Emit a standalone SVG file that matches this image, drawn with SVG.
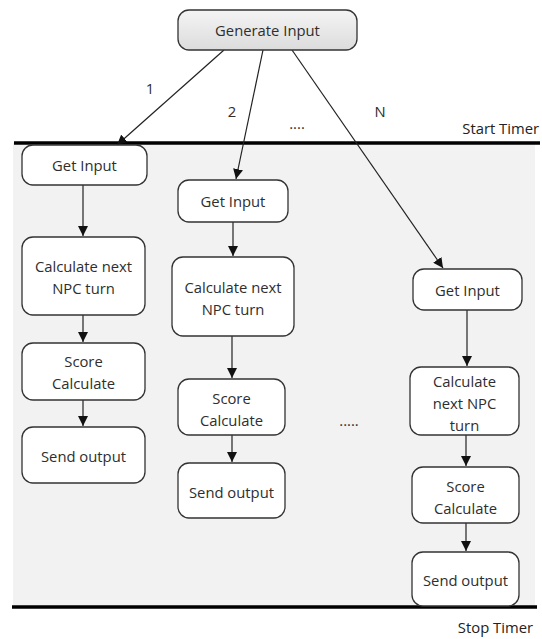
<svg xmlns="http://www.w3.org/2000/svg" width="542" height="639" viewBox="0 0 542 639">
  <defs>
    <linearGradient id="genFill" x1="0" y1="0" x2="0" y2="1">
      <stop offset="0" stop-color="#f4f4f4"/>
      <stop offset="1" stop-color="#dcdcdc"/>
    </linearGradient>
    <marker id="arrow" viewBox="0 0 10 10" refX="10" refY="5" markerWidth="10" markerHeight="10" markerUnits="userSpaceOnUse" orient="auto">
      <path d="M0,0 L10,5 L0,10 Z" fill="#111"/>
    </marker>
  </defs>
  <style>
    .box { fill: #ffffff; stroke: #333333; stroke-width: 1.3; }
    .gen { fill: url(#genFill); stroke: #333333; stroke-width: 1.3; }
    .lbl { font-family: "Open Sans", "Noto Sans", sans-serif; font-size: 14.8px; fill: #2e2e2e; text-anchor: middle; dominant-baseline: central; }
    .note { font-family: "Open Sans", "Noto Sans", sans-serif; font-size: 14.8px; fill: #222222; }
    .edge { stroke: #222222; stroke-width: 1.2; fill: none; marker-end: url(#arrow); }
    .timer { stroke: #000000; stroke-width: 3.5; }
  </style>

  <!-- timed region -->
  <rect x="13" y="143" width="522" height="463" fill="#f2f2f2"/>
  <line class="timer" x1="14" y1="143" x2="540" y2="143"/>
  <line class="timer" x1="12" y1="607" x2="537" y2="607"/>
  <text class="note" x="539" y="134" text-anchor="end">Start Timer</text>
  <text class="note" x="533" y="633" text-anchor="end">Stop Timer</text>

  <g id="connectors">
    <line class="edge" x1="224" y1="50" x2="117" y2="145"/>
    <line class="edge" x1="263" y1="50" x2="236" y2="179"/>
    <line class="edge" x1="292" y1="50" x2="443" y2="268"/>

    <line class="edge" x1="83" y1="185" x2="83" y2="236"/>
    <line class="edge" x1="83" y1="315" x2="83" y2="342"/>
    <line class="edge" x1="83" y1="400" x2="83" y2="426"/>

    <line class="edge" x1="233" y1="222" x2="233" y2="256"/>
    <line class="edge" x1="232" y1="336" x2="232" y2="378"/>
    <line class="edge" x1="232" y1="435" x2="232" y2="462"/>

    <line class="edge" x1="467" y1="310" x2="467" y2="366"/>
    <line class="edge" x1="466" y1="435" x2="466" y2="466"/>
    <line class="edge" x1="466" y1="523" x2="466" y2="551"/>
  </g>

  <!-- branch labels -->
  <text class="lbl" x="150" y="88">1</text>
  <text class="lbl" x="232" y="111">2</text>
  <text class="lbl" x="297" y="123">....</text>
  <text class="lbl" x="380" y="111">N</text>
  <text class="lbl" x="349" y="420">.....</text>

  <g id="generate-input">
    <rect class="gen" x="178" y="10" width="179" height="40" rx="11"/>
    <text class="lbl" x="267.5" y="30">Generate Input</text>
  </g>

  <!-- worker 1 -->
  <g id="get-input-1">
    <rect class="box" x="22" y="145" width="125" height="40" rx="11"/>
    <text class="lbl" x="84.5" y="165">Get Input</text>
  </g>
  <g id="calc-npc-1">
    <rect class="box" x="22" y="237" width="123" height="78" rx="11"/>
    <text class="lbl" x="83.5" y="266">Calculate next</text>
    <text class="lbl" x="83.5" y="288">NPC turn</text>
  </g>
  <g id="score-1">
    <rect class="box" x="22" y="343" width="123" height="57" rx="11"/>
    <text class="lbl" x="83.5" y="361">Score</text>
    <text class="lbl" x="83.5" y="383">Calculate</text>
  </g>
  <g id="send-output-1">
    <rect class="box" x="22" y="427" width="123" height="56" rx="11"/>
    <text class="lbl" x="83.5" y="456">Send output</text>
  </g>

  <!-- worker 2 -->
  <g id="get-input-2">
    <rect class="box" x="178" y="180" width="110" height="42" rx="11"/>
    <text class="lbl" x="233" y="201">Get Input</text>
  </g>
  <g id="calc-npc-2">
    <rect class="box" x="172" y="257" width="122" height="79" rx="11"/>
    <text class="lbl" x="233" y="287">Calculate next</text>
    <text class="lbl" x="233" y="309">NPC turn</text>
  </g>
  <g id="score-2">
    <rect class="box" x="178" y="379" width="107" height="56" rx="11"/>
    <text class="lbl" x="231.5" y="398">Score</text>
    <text class="lbl" x="231.5" y="420">Calculate</text>
  </g>
  <g id="send-output-2">
    <rect class="box" x="178" y="463" width="107" height="55" rx="11"/>
    <text class="lbl" x="231.5" y="492">Send output</text>
  </g>

  <!-- worker N -->
  <g id="get-input-n">
    <rect class="box" x="413" y="269" width="109" height="41" rx="11"/>
    <text class="lbl" x="467.5" y="290">Get Input</text>
  </g>
  <g id="calc-npc-n">
    <rect class="box" x="410" y="367" width="109" height="68" rx="11"/>
    <text class="lbl" x="464.5" y="381">Calculate</text>
    <text class="lbl" x="464.5" y="403">next NPC</text>
    <text class="lbl" x="464.5" y="425">turn</text>
  </g>
  <g id="score-n">
    <rect class="box" x="412" y="467" width="107" height="56" rx="11"/>
    <text class="lbl" x="465.5" y="486">Score</text>
    <text class="lbl" x="465.5" y="508">Calculate</text>
  </g>
  <g id="send-output-n">
    <rect class="box" x="412" y="552" width="107" height="54" rx="11"/>
    <text class="lbl" x="465.5" y="580">Send output</text>
  </g>
</svg>
